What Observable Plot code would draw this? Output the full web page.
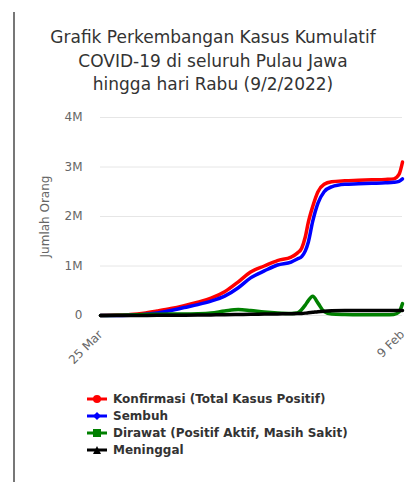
<!DOCTYPE html>
<html><head><meta charset="utf-8">
<script src="https://cdn.jsdelivr.net/npm/d3@7"></script>
<script src="https://cdn.jsdelivr.net/npm/@observablehq/plot@0.6"></script>
<style>
body{margin:0;background:#fff;width:408px;height:482px;overflow:hidden;position:relative;font-family:"DejaVu Sans",sans-serif}
#border{position:absolute;left:13px;top:12px;width:2px;height:470px;background:#777}
#title{position:absolute;left:0;top:26px;width:426px;text-align:center;font-size:17px;line-height:23.5px;color:#333}
#chart{position:absolute;left:0;top:100px}
#legend{position:absolute;left:86px;top:390px;font-size:12px;font-weight:bold;color:#333}
.row{height:17px;display:flex;align-items:center}
.row svg{margin-right:5px}
</style></head>
<body>
<div id="border"></div>
<div id="title">Grafik Perkembangan Kasus Kumulatif<br>COVID-19 di seluruh Pulau Jawa<br>hingga hari Rabu (9/2/2022)</div>
<div id="chart"></div>
<div id="legend"></div>
<script>
const dates = ["2020-03-25","2020-05-01","2020-06-01","2020-07-01","2020-08-01","2020-09-01","2020-10-01","2020-11-01","2020-12-01","2021-01-01","2021-02-01","2021-03-01","2021-04-01","2021-05-01","2021-06-01","2021-06-15","2021-06-25","2021-07-03","2021-07-10","2021-07-20","2021-08-01","2021-08-15","2021-09-01","2021-10-01","2021-11-01","2021-12-01","2022-01-01","2022-01-20","2022-02-01","2022-02-09"];
// values in millions of people
const konfirmasi = [0,0.008,0.02,0.045,0.09,0.14,0.2,0.27,0.35,0.48,0.68,0.88,1.0,1.11,1.18,1.26,1.36,1.58,1.88,2.2,2.5,2.65,2.7,2.72,2.73,2.74,2.75,2.76,2.85,3.1];
const sembuh     = [0,0.002,0.007,0.02,0.05,0.1,0.16,0.22,0.29,0.39,0.56,0.76,0.9,1.02,1.08,1.14,1.19,1.3,1.48,1.9,2.27,2.5,2.6,2.65,2.66,2.67,2.68,2.69,2.71,2.76];
const dirawat    = [0,0.005,0.012,0.02,0.025,0.03,0.03,0.035,0.05,0.09,0.12,0.1,0.07,0.05,0.04,0.05,0.12,0.21,0.3,0.39,0.25,0.08,0.03,0.02,0.015,0.015,0.015,0.02,0.07,0.24];
const meninggal  = [0,0.0006,0.0012,0.002,0.003,0.005,0.007,0.009,0.012,0.015,0.02,0.025,0.028,0.032,0.035,0.038,0.042,0.048,0.055,0.065,0.078,0.088,0.095,0.1,0.1,0.1,0.1,0.1,0.1,0.1];
const seriesNames = ["Konfirmasi (Total Kasus Positif)","Sembuh","Dirawat (Positif Aktif, Masih Sakit)","Meninggal"];
const seriesColors = ["#ff0000","#0000ff","#008000","#000000"];
const seriesSymbols = ["circle","diamond","square","triangle"];
const yTicks = [0,1e6,2e6,3e6,4e6];
const yTickLabels = ["0","1M","2M","3M","4M"];
const xTickLabels = ["25 Mar","9 Feb"];

const seriesValues = [konfirmasi, sembuh, dirawat, meninggal];
const parse = d3.utcParse("%Y-%m-%d");
const rows = seriesNames.flatMap((name, s) => dates.map((d, i) => ({date: parse(d), value: seriesValues[s][i] * 1e6, name})));
const xTicks = [parse(dates[0]), parse(dates[dates.length - 1])];

const chart = Plot.plot({
  width: 408, height: 280,
  marginTop: 17, marginBottom: 65, marginLeft: 100, marginRight: 6,
  style: {fontFamily: "DejaVu Sans, sans-serif", background: "transparent"},
  x: {type: "utc", domain: xTicks},
  y: {domain: [0, 4e6]},
  marks: [
    Plot.gridY(yTicks, {stroke: "#e6e6e6", strokeOpacity: 1, strokeWidth: 1}),
    Plot.axisY({ticks: yTicks, tickSize: 0, tickPadding: 18, tickFormat: (d, i) => yTickLabels[i], label: "Jumlah Orang", labelAnchor: "center", labelArrow: "none", labelOffset: 60, fill: "#666", fontSize: 12}),
    Plot.axisX({ticks: xTicks, tickSize: 0, tickRotate: -45, tickPadding: 17, tickFormat: (d, i) => xTickLabels[i], label: null, fill: "#666", fontSize: 12}),
    ...seriesNames.map((name, s) => Plot.line(rows.filter(r => r.name === name), {x: "date", y: "value", stroke: seriesColors[s], strokeWidth: 3.5, curve: "monotone-x"}))
  ]
});
document.getElementById("chart").appendChild(chart);

const legend = document.getElementById("legend");
seriesNames.forEach((name, s) => {
  const row = document.createElement("div");
  row.className = "row";
  const c = seriesColors[s];
  let marker;
  if (seriesSymbols[s] === "circle") marker = `<circle cx="11" cy="6" r="4" fill="${c}"/>`;
  else if (seriesSymbols[s] === "diamond") marker = `<path d="M11 2 L15 6 L11 10 L7 6 Z" fill="${c}"/>`;
  else if (seriesSymbols[s] === "square") marker = `<rect x="7" y="2" width="8" height="8" fill="${c}"/>`;
  else marker = `<path d="M11 2 L15 10 L7 10 Z" fill="${c}"/>`;
  row.innerHTML = `<svg width="22" height="12"><line x1="1" y1="6" x2="21" y2="6" stroke="${c}" stroke-width="3"/>${marker}</svg><span>${name}</span>`;
  legend.appendChild(row);
});
</script>
</body></html>
